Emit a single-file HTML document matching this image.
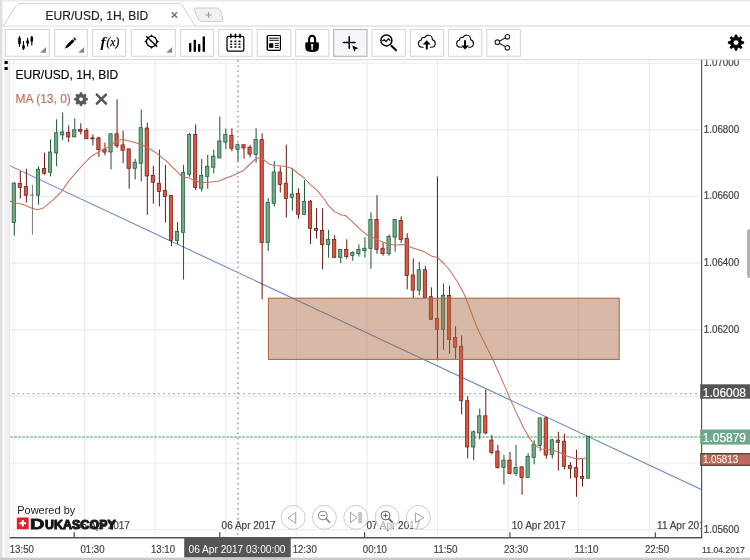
<!DOCTYPE html>
<html lang="en"><head><meta charset="utf-8"><title>EUR/USD, 1H, BID</title>
<style>
html,body{margin:0;padding:0;background:#fff;}
body{width:750px;height:560px;overflow:hidden;position:relative;font-family:"Liberation Sans",Arial,sans-serif;}
svg.chart{position:absolute;left:0;top:0;display:block}
</style></head><body>
<svg class="chart" width="750" height="560" viewBox="0 0 750 560" font-family="Liberation Sans, Arial, sans-serif">
<rect x="0" y="0" width="750" height="1.6" fill="#ebebeb"/>
<rect x="0" y="0" width="2.2" height="560" fill="#e0e0e0"/><rect x="2.2" y="0" width="1" height="560" fill="#f0f0f0"/>
<rect x="4.6" y="60" width="4.8" height="498" fill="#f1f1f1"/>
<rect x="9" y="60" width="1" height="478" fill="#e6e6e6"/>
<rect x="0" y="557.6" width="750" height="2.4" fill="#cacaca"/>
<line x1="3" x2="750" y1="26" y2="26" stroke="#e6e6e6" stroke-width="1.4"/>
<line x1="3" x2="750" y1="59.7" y2="59.7" stroke="#dedede" stroke-width="1.3"/>
<path d="M3 26.4 L16.2 5.6 Q17.6 3.6 20 3.6 H178.6 Q181 3.6 182.4 5.6 L195.4 26.4" fill="#fff" stroke="#cfcfcf" stroke-width="1"/>
<line x1="3" x2="750" y1="26.1" y2="26.1" stroke="#e6e6e6" stroke-width="1.3"/>
<path d="M195.6 8 H217 Q219.4 8 220.2 10 L223 19 Q223.6 21.4 221 21.4 H201.6 Q199.4 21.4 198.6 19.6 L194.4 10 Q193.6 8 195.6 8Z" fill="#f1f1f1" stroke="#cdcdcd" stroke-width="1"/>
<path d="M205.6 15 h6 M208.6 12 v6" stroke="#999" stroke-width="1" fill="none"/>
<text x="45.6" y="20" font-size="12" fill="#222" stroke="#222" stroke-width="0.15">EUR/USD, 1H, BID</text>
<path d="M171.7 12.2 L177.1 17.6 M177.1 12.2 L171.7 17.6" stroke="#777" stroke-width="1.5" fill="none"/>
<rect x="5.3" y="29.5" width="44" height="26.8" fill="#fff" stroke="#dadada" stroke-width="1.15"/>
<path d="M46 47 V52.8 H40Z" fill="#8a8a8a"/>
<rect x="54.6" y="29.5" width="32.8" height="26.8" fill="#fff" stroke="#dadada" stroke-width="1.15"/>
<path d="M84.1 47 V52.8 H78.1Z" fill="#8a8a8a"/>
<rect x="92.6" y="29.5" width="33.1" height="26.8" fill="#fff" stroke="#dadada" stroke-width="1.15"/>
<rect x="131.3" y="29.5" width="44.1" height="26.8" fill="#fff" stroke="#dadada" stroke-width="1.15"/>
<path d="M172.1 47 V52.8 H166.1Z" fill="#8a8a8a"/>
<rect x="180.6" y="29.5" width="33" height="26.8" fill="#fff" stroke="#dadada" stroke-width="1.15"/>
<rect x="218.6" y="29.5" width="33.5" height="26.8" fill="#fff" stroke="#dadada" stroke-width="1.15"/>
<rect x="257.3" y="29.5" width="33.4" height="26.8" fill="#fff" stroke="#dadada" stroke-width="1.15"/>
<rect x="295.6" y="29.5" width="33.2" height="26.8" fill="#fff" stroke="#dadada" stroke-width="1.15"/>
<rect x="333.7" y="29.5" width="33.3" height="26.8" fill="#f5f6f9" stroke="#b8b8b8" stroke-width="1.15"/>
<rect x="371.9" y="29.5" width="33.5" height="26.8" fill="#fff" stroke="#dadada" stroke-width="1.15"/>
<rect x="410.3" y="29.5" width="33.3" height="26.8" fill="#fff" stroke="#dadada" stroke-width="1.15"/>
<rect x="448.5" y="29.5" width="33.3" height="26.8" fill="#fff" stroke="#dadada" stroke-width="1.15"/>
<rect x="486.8" y="29.5" width="33.6" height="26.8" fill="#fff" stroke="#dadada" stroke-width="1.15"/>
<line x1="19.5" x2="19.5" y1="36" y2="46.8" stroke="#000" stroke-width="1.1"/>
<rect x="18.20" y="37.5" width="2.6" height="6.80" rx="1" fill="#000"/>
<line x1="23.5" x2="23.5" y1="41" y2="50" stroke="#000" stroke-width="1.1"/>
<rect x="22.20" y="45" width="2.6" height="4.00" rx="1" fill="#000"/>
<line x1="27.6" x2="27.6" y1="37.8" y2="46.6" stroke="#000" stroke-width="1.1"/>
<rect x="26.30" y="40.2" width="2.6" height="3.60" rx="1" fill="#000"/>
<line x1="31.8" x2="31.8" y1="35.8" y2="45.6" stroke="#000" stroke-width="1.1"/>
<rect x="30.50" y="36.8" width="2.6" height="5.00" rx="1" fill="#000"/>
<g transform="translate(70.4,43.3) rotate(-44.5)"><path d="M-7.9 0 L-3.8 -1.45 H4.4 V1.45 H-3.8Z" fill="#000"/><rect x="5.1" y="-1.45" width="2" height="2.9" rx="0.8" fill="#333"/></g>
<text x="100.6" y="46.6" font-family="Liberation Serif, serif" font-style="italic" font-weight="bold" font-size="15.5" fill="#000">f</text>
<text x="106.6" y="46.4" font-family="Liberation Serif, serif" font-style="italic" font-size="13" fill="#000" stroke="#000" stroke-width="0.25" textLength="12.6" lengthAdjust="spacingAndGlyphs">(x)</text>
<circle cx="151.6" cy="41.6" r="5.2" fill="none" stroke="#000" stroke-width="1.3"/>
<path d="M150.29999999999998 36.2 L151.6 34.2 L152.9 36.2Z M150.29999999999998 47.0 L151.6 49.0 L152.9 47.0Z M146.2 40.300000000000004 L144.2 41.6 L146.2 42.9Z M157.0 40.300000000000004 L159.0 41.6 L157.0 42.9Z" fill="#000"/>
<line x1="146.2" y1="36.2" x2="157.2" y2="46.8" stroke="#000" stroke-width="1.4"/>
<rect x="189.05" y="43" width="2.3" height="8.90" rx="0.8" fill="#000"/>
<rect x="193.65" y="39.8" width="2.3" height="12.10" rx="0.8" fill="#000"/>
<rect x="198.05" y="44" width="2.3" height="7.90" rx="0.8" fill="#000"/>
<rect x="202.65" y="36.2" width="2.3" height="15.70" rx="0.8" fill="#000"/>
<rect x="227" y="36.4" width="16.8" height="14.6" rx="1.6" fill="none" stroke="#000" stroke-width="1.25"/>
<line x1="230.8" x2="230.8" y1="34.2" y2="37.8" stroke="#000" stroke-width="1.5" stroke-linecap="round"/>
<line x1="235.4" x2="235.4" y1="34.2" y2="37.8" stroke="#000" stroke-width="1.5" stroke-linecap="round"/>
<line x1="240" x2="240" y1="34.2" y2="37.8" stroke="#000" stroke-width="1.5" stroke-linecap="round"/>
<rect x="230.15" y="40.60" width="2.1" height="1.6" rx="0.4" fill="#000"/>
<rect x="230.15" y="43.40" width="2.1" height="1.6" rx="0.4" fill="#000"/>
<rect x="230.15" y="46.20" width="2.1" height="1.6" rx="0.4" fill="#000"/>
<rect x="234.35" y="40.60" width="2.1" height="1.6" rx="0.4" fill="#000"/>
<rect x="234.35" y="43.40" width="2.1" height="1.6" rx="0.4" fill="#000"/>
<rect x="234.35" y="46.20" width="2.1" height="1.6" rx="0.4" fill="#000"/>
<rect x="238.45" y="40.60" width="2.1" height="1.6" rx="0.4" fill="#000"/>
<rect x="238.45" y="43.40" width="2.1" height="1.6" rx="0.4" fill="#000"/>
<rect x="238.45" y="46.20" width="2.1" height="1.6" rx="0.4" fill="#000"/>
<rect x="267.5" y="35.5" width="12.9" height="14.9" rx="0.8" fill="none" stroke="#000" stroke-width="1.15"/>
<line x1="267.2" x2="267.2" y1="36" y2="50" stroke="#000" stroke-width="1.2"/>
<path d="M269.2 38.2 H278.8 M269.2 40.3 H278.8 M274.8 43.6 H278.8 M274.8 45.6 H278.8 M274.8 47.6 H278.8" stroke="#000" stroke-width="0.95" fill="none"/>
<rect x="269.1" y="43.2" width="4.2" height="4.6" fill="#000"/>
<path d="M309.1 43 V39.2 A3 3.4 0 0 1 315.1 39.2 V43" fill="none" stroke="#000" stroke-width="2.1"/>
<path d="M305.3 43.6 Q305.3 42.2 306.8 42.2 H317.4 Q318.9 42.2 318.9 43.6 V47.4 Q318.9 51.9 312.1 51.9 Q305.3 51.9 305.3 47.4Z" fill="#000"/>
<circle cx="312.1" cy="45.1" r="1.2" fill="#fff"/><rect x="311.4" y="45.4" width="1.4" height="4.5" rx="0.5" fill="#fff"/>
<path d="M343.3 42.4 H355 M349.2 36.8 V48.2" stroke="#000" stroke-width="1.5" stroke-linecap="round" fill="none"/>
<circle cx="349.2" cy="42.4" r="0.45" fill="#ddd"/>
<path d="M352.2 45.5 L358.6 48.2 L355.7 49.1 L354.6 52 Z" fill="#000"/>
<circle cx="386.4" cy="40.4" r="5.5" fill="none" stroke="#000" stroke-width="1.5"/>
<line x1="391.4" y1="45.8" x2="396" y2="50.3" stroke="#000" stroke-width="1.9" stroke-linecap="round"/>
<path d="M382.8 40.6 L384.2 39.7 L386 41.6 L388.4 38.8 L390 40.4" stroke="#000" stroke-width="1.25" fill="none" stroke-linejoin="round" stroke-linecap="round"/>
<path d="M423.20 47.2 H422.20 C419.60 47.2 418.40 45.4 418.40 43.6 C418.40 41.6 419.80 40.2 421.40 40 C421.20 38 423.00 36.8 424.60 37.6 C425.60 35.8 427.20 35 428.80 35.2 C431.00 35.4 432.40 37.2 432.40 39.6 C434.40 40.2 435.20 41.8 435.20 43.4 C435.20 45.6 433.60 47.2 431.40 47.2 H430.40" fill="none" stroke="#111" stroke-width="1.15" stroke-linecap="round"/>
<path d="M426.8 49.4 V43" stroke="#000" stroke-width="2"/><path d="M422.8 44.6 L426.8 40.2 L430.8 44.6Z" fill="#000"/>
<path d="M461.40 47.2 H460.40 C457.80 47.2 456.60 45.4 456.60 43.6 C456.60 41.6 458.00 40.2 459.60 40 C459.40 38 461.20 36.8 462.80 37.6 C463.80 35.8 465.40 35 467.00 35.2 C469.20 35.4 470.60 37.2 470.60 39.6 C472.60 40.2 473.40 41.8 473.40 43.4 C473.40 45.6 471.80 47.2 469.60 47.2 H468.60" fill="none" stroke="#111" stroke-width="1.15" stroke-linecap="round"/>
<path d="M465 40.2 V46" stroke="#000" stroke-width="2"/><path d="M461 45.4 L465 49.6 L469 45.4Z" fill="#000"/>
<path d="M497.4 42.2 L507.4 36.8 M497.4 42.2 L507.4 47.8" stroke="#222" stroke-width="1.1" fill="none"/>
<circle cx="497.4" cy="42.2" r="2.3" fill="#fff" stroke="#222" stroke-width="1.1"/>
<circle cx="507.4" cy="36.8" r="2.3" fill="#fff" stroke="#222" stroke-width="1.1"/>
<circle cx="507.4" cy="47.8" r="2.3" fill="#fff" stroke="#222" stroke-width="1.1"/>
<path d="M735.09 34.95 L736.91 34.95 L737.25 37.2 L738.93 37.9 L740.77 36.55 L742.05 37.83 L740.7 39.67 L741.4 41.35 L743.65 41.69 L743.65 43.51 L741.4 43.85 L740.7 45.53 L742.05 47.37 L740.77 48.65 L738.93 47.3 L737.25 48 L736.91 50.25 L735.09 50.25 L734.75 48 L733.07 47.3 L731.23 48.65 L729.95 47.37 L731.3 45.53 L730.6 43.85 L728.35 43.51 L728.35 41.69 L730.6 41.35 L731.3 39.67 L729.95 37.83 L731.23 36.55 L733.07 37.9 L734.75 37.2Z M738.8 42.6 A2.8 2.8 0 1 0 733.2 42.6 A2.8 2.8 0 1 0 738.8 42.6Z" fill="#000" fill-rule="evenodd" stroke="#000" stroke-width="0.8" stroke-linejoin="round"/>
</svg>
<svg class="chart" width="750" height="560" viewBox="0 0 750 560" font-family="Liberation Sans, Arial, sans-serif">
<defs><clipPath id="plot"><rect x="10" y="60" width="690.8" height="477.5"/></clipPath><clipPath id="axis"><rect x="700" y="60.2" width="50" height="500"/></clipPath></defs>
<g clip-path="url(#plot)">
<line x1="10" x2="701" y1="63.2" y2="63.2" stroke="#ececec" stroke-width="1.1"/>
<line x1="10" x2="701" y1="129.83" y2="129.83" stroke="#ececec" stroke-width="1.1"/>
<line x1="10" x2="701" y1="196.46" y2="196.46" stroke="#ececec" stroke-width="1.1"/>
<line x1="10" x2="701" y1="263.09" y2="263.09" stroke="#ececec" stroke-width="1.1"/>
<line x1="10" x2="701" y1="329.72" y2="329.72" stroke="#ececec" stroke-width="1.1"/>
<line x1="10" x2="701" y1="396.35" y2="396.35" stroke="#ececec" stroke-width="1.1"/>
<line x1="10" x2="701" y1="462.98" y2="462.98" stroke="#ececec" stroke-width="1.1"/>
<line x1="10" x2="701" y1="529.61" y2="529.61" stroke="#ececec" stroke-width="1.1"/>
<line x1="14" x2="14" y1="60" y2="537" stroke="#ececec" stroke-width="1.1"/>
<line x1="84.58" x2="84.58" y1="60" y2="537" stroke="#ececec" stroke-width="1.1"/>
<line x1="155.16" x2="155.16" y1="60" y2="537" stroke="#ececec" stroke-width="1.1"/>
<line x1="225.74" x2="225.74" y1="60" y2="537" stroke="#ececec" stroke-width="1.1"/>
<line x1="296.32" x2="296.32" y1="60" y2="537" stroke="#ececec" stroke-width="1.1"/>
<line x1="366.9" x2="366.9" y1="60" y2="537" stroke="#ececec" stroke-width="1.1"/>
<line x1="437.48" x2="437.48" y1="60" y2="537" stroke="#ececec" stroke-width="1.1"/>
<line x1="508.06" x2="508.06" y1="60" y2="537" stroke="#ececec" stroke-width="1.1"/>
<line x1="578.64" x2="578.64" y1="60" y2="537" stroke="#ececec" stroke-width="1.1"/>
<line x1="649.22" x2="649.22" y1="60" y2="537" stroke="#ececec" stroke-width="1.1"/>
<line x1="74.2" x2="74.2" y1="532.3" y2="537.5" stroke="#444" stroke-width="1.2"/>
<text x="76" y="529.4" font-size="10" fill="#444" stroke="#444" stroke-width="0.2">05 Apr 2017</text>
<line x1="219.8" x2="219.8" y1="532.3" y2="537.5" stroke="#444" stroke-width="1.2"/>
<text x="221.6" y="529.4" font-size="10" fill="#444" stroke="#444" stroke-width="0.2">06 Apr 2017</text>
<line x1="364.6" x2="364.6" y1="532.3" y2="537.5" stroke="#444" stroke-width="1.2"/>
<text x="366.4" y="529.4" font-size="10" fill="#444" stroke="#444" stroke-width="0.2">07 Apr 2017</text>
<line x1="510" x2="510" y1="532.3" y2="537.5" stroke="#444" stroke-width="1.2"/>
<text x="511.8" y="529.4" font-size="10" fill="#444" stroke="#444" stroke-width="0.2">10 Apr 2017</text>
<line x1="655.3" x2="655.3" y1="532.3" y2="537.5" stroke="#444" stroke-width="1.2"/>
<text x="657.1" y="529.4" font-size="10" fill="#444" stroke="#444" stroke-width="0.2">11 Apr 2017</text>
<line x1="9.6" y1="165.6" x2="701.5" y2="489.6" stroke="#6485cb" stroke-width="1.05"/>
<line x1="237.95" x2="237.95" y1="60.35" y2="537" stroke="#9a9a9a" stroke-width="1.4" stroke-dasharray="1.7 3.33"/>
<line x1="10" x2="701" y1="393.7" y2="393.7" stroke="#999" stroke-width="1.1" stroke-dasharray="2 3.02" stroke-dashoffset="-2.3"/>
<line x1="10.16" x2="701" y1="437" y2="437" stroke="#80b897" stroke-width="1.4" stroke-dasharray="2.7 1.3"/>
<line x1="14.3" x2="14.3" y1="182.2" y2="235.5" stroke="#1b5535" stroke-width="1"/>
<rect x="12.15" y="183.1" width="3.3" height="39.4" fill="#6fa985" stroke="#1b5535" stroke-width="0.7"/>
<line x1="20.34" x2="20.34" y1="171" y2="198.5" stroke="#681712" stroke-width="1"/>
<rect x="18.2" y="183.4" width="3.3" height="4.1" fill="#dd5540" stroke="#681712" stroke-width="0.7"/>
<line x1="26.39" x2="26.39" y1="168.9" y2="202.6" stroke="#681712" stroke-width="1"/>
<rect x="24.24" y="186.3" width="3.3" height="8.9" fill="#dd5540" stroke="#681712" stroke-width="0.7"/>
<line x1="32.44" x2="32.44" y1="184.9" y2="234.7" stroke="#7a7a7a" stroke-width="1"/>
<line x1="29.94" x2="33.94" y1="195" y2="195" stroke="#7a7a7a" stroke-width="1"/>
<line x1="38.48" x2="38.48" y1="166.5" y2="204.7" stroke="#1b5535" stroke-width="1"/>
<rect x="36.33" y="169.2" width="3.3" height="26" fill="#6fa985" stroke="#1b5535" stroke-width="0.7"/>
<line x1="44.53" x2="44.53" y1="152.7" y2="174.7" stroke="#681712" stroke-width="1"/>
<rect x="42.38" y="168.4" width="3.3" height="4.9" fill="#dd5540" stroke="#681712" stroke-width="0.7"/>
<line x1="50.57" x2="50.57" y1="139.4" y2="176.3" stroke="#1b5535" stroke-width="1"/>
<rect x="48.42" y="152" width="3.3" height="20.2" fill="#6fa985" stroke="#1b5535" stroke-width="0.7"/>
<line x1="56.61" x2="56.61" y1="119.3" y2="166.3" stroke="#1b5535" stroke-width="1"/>
<rect x="54.46" y="132.7" width="3.3" height="20.2" fill="#6fa985" stroke="#1b5535" stroke-width="0.7"/>
<line x1="62.66" x2="62.66" y1="112.4" y2="140.2" stroke="#1b5535" stroke-width="1"/>
<rect x="60.51" y="131.9" width="3.3" height="3" fill="#6fa985" stroke="#1b5535" stroke-width="0.7"/>
<line x1="68.7" x2="68.7" y1="125.4" y2="142" stroke="#681712" stroke-width="1"/>
<rect x="66.55" y="132.2" width="3.3" height="4.7" fill="#dd5540" stroke="#681712" stroke-width="0.7"/>
<line x1="74.75" x2="74.75" y1="118.5" y2="137" stroke="#1b5535" stroke-width="1"/>
<rect x="72.6" y="129.8" width="3.3" height="7.1" fill="#6fa985" stroke="#1b5535" stroke-width="0.7"/>
<line x1="80.8" x2="80.8" y1="123.3" y2="134.5" stroke="#681712" stroke-width="1"/>
<rect x="78.64" y="129.5" width="3.3" height="1.7" fill="#dd5540" stroke="#681712" stroke-width="0.7"/>
<line x1="86.84" x2="86.84" y1="128.1" y2="138.9" stroke="#681712" stroke-width="1"/>
<rect x="84.69" y="130.3" width="3.3" height="8.5" fill="#dd5540" stroke="#681712" stroke-width="0.7"/>
<line x1="92.88" x2="92.88" y1="134.5" y2="145.3" stroke="#681712" stroke-width="1"/>
<rect x="90.73" y="137.9" width="3.3" height="1" fill="#dd5540" stroke="#681712" stroke-width="0.7"/>
<line x1="98.93" x2="98.93" y1="136.6" y2="157" stroke="#681712" stroke-width="1"/>
<rect x="96.78" y="137.9" width="3.3" height="11.8" fill="#dd5540" stroke="#681712" stroke-width="0.7"/>
<line x1="104.97" x2="104.97" y1="142.6" y2="155.4" stroke="#681712" stroke-width="1"/>
<rect x="102.82" y="149.1" width="3.3" height="3" fill="#dd5540" stroke="#681712" stroke-width="0.7"/>
<line x1="111.02" x2="111.02" y1="133.7" y2="169.3" stroke="#1b5535" stroke-width="1"/>
<rect x="108.87" y="133.8" width="3.3" height="18.2" fill="#6fa985" stroke="#1b5535" stroke-width="0.7"/>
<line x1="117.06" x2="117.06" y1="99.4" y2="148.1" stroke="#681712" stroke-width="1"/>
<rect x="114.91" y="133.8" width="3.3" height="12.1" fill="#dd5540" stroke="#681712" stroke-width="0.7"/>
<line x1="123.11" x2="123.11" y1="130.7" y2="163.3" stroke="#681712" stroke-width="1"/>
<rect x="120.96" y="144.9" width="3.3" height="5.4" fill="#dd5540" stroke="#681712" stroke-width="0.7"/>
<line x1="129.16" x2="129.16" y1="148.8" y2="188.8" stroke="#681712" stroke-width="1"/>
<rect x="127" y="148.9" width="3.3" height="19.4" fill="#dd5540" stroke="#681712" stroke-width="0.7"/>
<line x1="135.2" x2="135.2" y1="158.9" y2="179.4" stroke="#1b5535" stroke-width="1"/>
<rect x="133.05" y="162.2" width="3.3" height="6.1" fill="#6fa985" stroke="#1b5535" stroke-width="0.7"/>
<line x1="141.25" x2="141.25" y1="109.5" y2="181.4" stroke="#1b5535" stroke-width="1"/>
<rect x="139.09" y="127.7" width="3.3" height="35.5" fill="#6fa985" stroke="#1b5535" stroke-width="0.7"/>
<line x1="147.29" x2="147.29" y1="122.6" y2="214.8" stroke="#681712" stroke-width="1"/>
<rect x="145.14" y="128" width="3.3" height="48" fill="#dd5540" stroke="#681712" stroke-width="0.7"/>
<line x1="153.34" x2="153.34" y1="165.7" y2="203.6" stroke="#681712" stroke-width="1"/>
<rect x="151.19" y="175.3" width="3.3" height="7" fill="#dd5540" stroke="#681712" stroke-width="0.7"/>
<line x1="159.38" x2="159.38" y1="149.6" y2="206.4" stroke="#681712" stroke-width="1"/>
<rect x="157.23" y="183.2" width="3.3" height="8.2" fill="#dd5540" stroke="#681712" stroke-width="0.7"/>
<line x1="165.43" x2="165.43" y1="164.9" y2="222.5" stroke="#681712" stroke-width="1"/>
<rect x="163.28" y="190.3" width="3.3" height="6.2" fill="#dd5540" stroke="#681712" stroke-width="0.7"/>
<line x1="171.47" x2="171.47" y1="195.2" y2="246.1" stroke="#681712" stroke-width="1"/>
<rect x="169.32" y="195.3" width="3.3" height="45.3" fill="#dd5540" stroke="#681712" stroke-width="0.7"/>
<line x1="177.52" x2="177.52" y1="222" y2="243.9" stroke="#1b5535" stroke-width="1"/>
<rect x="175.37" y="231.5" width="3.3" height="8.9" fill="#6fa985" stroke="#1b5535" stroke-width="0.7"/>
<line x1="183.56" x2="183.56" y1="164.9" y2="279.5" stroke="#1b5535" stroke-width="1"/>
<rect x="181.41" y="172.3" width="3.3" height="60" fill="#6fa985" stroke="#1b5535" stroke-width="0.7"/>
<line x1="189.61" x2="189.61" y1="132.8" y2="176.8" stroke="#1b5535" stroke-width="1"/>
<rect x="187.46" y="134.5" width="3.3" height="39.8" fill="#6fa985" stroke="#1b5535" stroke-width="0.7"/>
<line x1="195.65" x2="195.65" y1="124.4" y2="189.9" stroke="#681712" stroke-width="1"/>
<rect x="193.5" y="134.5" width="3.3" height="52.9" fill="#dd5540" stroke="#681712" stroke-width="0.7"/>
<line x1="201.7" x2="201.7" y1="158.9" y2="191.5" stroke="#1b5535" stroke-width="1"/>
<rect x="199.55" y="175.5" width="3.3" height="12.7" fill="#6fa985" stroke="#1b5535" stroke-width="0.7"/>
<line x1="207.74" x2="207.74" y1="154.8" y2="188.8" stroke="#1b5535" stroke-width="1"/>
<rect x="205.59" y="166.2" width="3.3" height="10.3" fill="#6fa985" stroke="#1b5535" stroke-width="0.7"/>
<line x1="213.78" x2="213.78" y1="149.6" y2="173.4" stroke="#1b5535" stroke-width="1"/>
<rect x="211.63" y="156.1" width="3.3" height="11.1" fill="#6fa985" stroke="#1b5535" stroke-width="0.7"/>
<line x1="219.83" x2="219.83" y1="116.4" y2="158.1" stroke="#1b5535" stroke-width="1"/>
<rect x="217.68" y="140.9" width="3.3" height="17.1" fill="#6fa985" stroke="#1b5535" stroke-width="0.7"/>
<line x1="225.88" x2="225.88" y1="128.4" y2="149.2" stroke="#1b5535" stroke-width="1"/>
<rect x="223.72" y="134.5" width="3.3" height="7.6" fill="#6fa985" stroke="#1b5535" stroke-width="0.7"/>
<line x1="231.92" x2="231.92" y1="128.4" y2="151.3" stroke="#681712" stroke-width="1"/>
<rect x="229.77" y="135.3" width="3.3" height="13" fill="#dd5540" stroke="#681712" stroke-width="0.7"/>
<line x1="237.97" x2="237.97" y1="143.3" y2="161.4" stroke="#1b5535" stroke-width="1"/>
<rect x="235.81" y="144.7" width="3.3" height="4.6" fill="#6fa985" stroke="#1b5535" stroke-width="0.7"/>
<line x1="244.01" x2="244.01" y1="144.6" y2="158.6" stroke="#681712" stroke-width="1"/>
<rect x="241.86" y="144.7" width="3.3" height="3.3" fill="#dd5540" stroke="#681712" stroke-width="0.7"/>
<line x1="250.06" x2="250.06" y1="144.9" y2="157.3" stroke="#681712" stroke-width="1"/>
<rect x="247.91" y="147.1" width="3.3" height="7" fill="#dd5540" stroke="#681712" stroke-width="0.7"/>
<line x1="256.1" x2="256.1" y1="128.4" y2="162.6" stroke="#1b5535" stroke-width="1"/>
<rect x="253.95" y="139.4" width="3.3" height="15" fill="#6fa985" stroke="#1b5535" stroke-width="0.7"/>
<line x1="262.14" x2="262.14" y1="133.3" y2="299.4" stroke="#681712" stroke-width="1"/>
<rect x="260" y="139.7" width="3.3" height="102.9" fill="#dd5540" stroke="#681712" stroke-width="0.7"/>
<line x1="268.19" x2="268.19" y1="198" y2="250.9" stroke="#1b5535" stroke-width="1"/>
<rect x="266.04" y="202.3" width="3.3" height="40.3" fill="#6fa985" stroke="#1b5535" stroke-width="0.7"/>
<line x1="274.24" x2="274.24" y1="161" y2="206.7" stroke="#1b5535" stroke-width="1"/>
<rect x="272.09" y="172" width="3.3" height="31.3" fill="#6fa985" stroke="#1b5535" stroke-width="0.7"/>
<line x1="280.28" x2="280.28" y1="166.6" y2="192.6" stroke="#681712" stroke-width="1"/>
<rect x="278.13" y="172" width="3.3" height="12.6" fill="#dd5540" stroke="#681712" stroke-width="0.7"/>
<line x1="286.32" x2="286.32" y1="144.6" y2="217.5" stroke="#681712" stroke-width="1"/>
<rect x="284.18" y="183.2" width="3.3" height="15.2" fill="#dd5540" stroke="#681712" stroke-width="0.7"/>
<line x1="292.37" x2="292.37" y1="167.7" y2="210.7" stroke="#1b5535" stroke-width="1"/>
<rect x="290.22" y="194" width="3.3" height="3.5" fill="#6fa985" stroke="#1b5535" stroke-width="0.7"/>
<line x1="298.42" x2="298.42" y1="188.3" y2="218.8" stroke="#681712" stroke-width="1"/>
<rect x="296.27" y="193.5" width="3.3" height="20.7" fill="#dd5540" stroke="#681712" stroke-width="0.7"/>
<line x1="304.46" x2="304.46" y1="180.2" y2="214.6" stroke="#1b5535" stroke-width="1"/>
<rect x="302.31" y="201.3" width="3.3" height="13.2" fill="#6fa985" stroke="#1b5535" stroke-width="0.7"/>
<line x1="310.5" x2="310.5" y1="200" y2="244" stroke="#681712" stroke-width="1"/>
<rect x="308.36" y="201.2" width="3.3" height="27.1" fill="#dd5540" stroke="#681712" stroke-width="0.7"/>
<line x1="316.55" x2="316.55" y1="208.2" y2="238.7" stroke="#681712" stroke-width="1"/>
<rect x="314.4" y="228.5" width="3.3" height="2.1" fill="#dd5540" stroke="#681712" stroke-width="0.7"/>
<line x1="322.6" x2="322.6" y1="208.2" y2="269.2" stroke="#681712" stroke-width="1"/>
<rect x="320.45" y="230.4" width="3.3" height="14" fill="#dd5540" stroke="#681712" stroke-width="0.7"/>
<line x1="328.64" x2="328.64" y1="230" y2="257.7" stroke="#1b5535" stroke-width="1"/>
<rect x="326.49" y="239.6" width="3.3" height="4.8" fill="#6fa985" stroke="#1b5535" stroke-width="0.7"/>
<line x1="334.69" x2="334.69" y1="235.2" y2="257.5" stroke="#681712" stroke-width="1"/>
<rect x="332.54" y="239.6" width="3.3" height="17.8" fill="#dd5540" stroke="#681712" stroke-width="0.7"/>
<line x1="340.73" x2="340.73" y1="249.5" y2="263.1" stroke="#1b5535" stroke-width="1"/>
<rect x="338.58" y="249.6" width="3.3" height="7.9" fill="#6fa985" stroke="#1b5535" stroke-width="0.7"/>
<line x1="346.78" x2="346.78" y1="239.3" y2="258.9" stroke="#681712" stroke-width="1"/>
<rect x="344.63" y="249.4" width="3.3" height="7" fill="#dd5540" stroke="#681712" stroke-width="0.7"/>
<line x1="352.82" x2="352.82" y1="251.2" y2="260.8" stroke="#1b5535" stroke-width="1"/>
<rect x="350.67" y="252.6" width="3.3" height="3" fill="#6fa985" stroke="#1b5535" stroke-width="0.7"/>
<line x1="358.87" x2="358.87" y1="244.4" y2="256.5" stroke="#1b5535" stroke-width="1"/>
<rect x="356.72" y="249.4" width="3.3" height="4.3" fill="#6fa985" stroke="#1b5535" stroke-width="0.7"/>
<line x1="364.91" x2="364.91" y1="237.2" y2="257.6" stroke="#1b5535" stroke-width="1"/>
<rect x="362.76" y="248.2" width="3.3" height="2.6" fill="#6fa985" stroke="#1b5535" stroke-width="0.7"/>
<line x1="370.95" x2="370.95" y1="212.3" y2="268.9" stroke="#1b5535" stroke-width="1"/>
<rect x="368.81" y="219.3" width="3.3" height="29.1" fill="#6fa985" stroke="#1b5535" stroke-width="0.7"/>
<line x1="377" x2="377" y1="195.1" y2="253.8" stroke="#681712" stroke-width="1"/>
<rect x="374.85" y="219.3" width="3.3" height="30.2" fill="#dd5540" stroke="#681712" stroke-width="0.7"/>
<line x1="383.05" x2="383.05" y1="242.8" y2="255.7" stroke="#681712" stroke-width="1"/>
<rect x="380.9" y="248.2" width="3.3" height="5.5" fill="#dd5540" stroke="#681712" stroke-width="0.7"/>
<line x1="389.09" x2="389.09" y1="234.5" y2="255.7" stroke="#1b5535" stroke-width="1"/>
<rect x="386.94" y="236.5" width="3.3" height="17.2" fill="#6fa985" stroke="#1b5535" stroke-width="0.7"/>
<line x1="395.13" x2="395.13" y1="219.2" y2="251.7" stroke="#1b5535" stroke-width="1"/>
<rect x="392.99" y="219.3" width="3.3" height="17.8" fill="#6fa985" stroke="#1b5535" stroke-width="0.7"/>
<line x1="401.18" x2="401.18" y1="216.3" y2="242.8" stroke="#681712" stroke-width="1"/>
<rect x="399.03" y="220.4" width="3.3" height="19.1" fill="#dd5540" stroke="#681712" stroke-width="0.7"/>
<line x1="407.23" x2="407.23" y1="233.2" y2="289.4" stroke="#681712" stroke-width="1"/>
<rect x="405.08" y="238.6" width="3.3" height="37" fill="#dd5540" stroke="#681712" stroke-width="0.7"/>
<line x1="413.27" x2="413.27" y1="258.4" y2="297.9" stroke="#681712" stroke-width="1"/>
<rect x="411.12" y="275" width="3.3" height="15.1" fill="#dd5540" stroke="#681712" stroke-width="0.7"/>
<line x1="419.31" x2="419.31" y1="262" y2="295.5" stroke="#1b5535" stroke-width="1"/>
<rect x="417.17" y="269.7" width="3.3" height="20.4" fill="#6fa985" stroke="#1b5535" stroke-width="0.7"/>
<line x1="425.36" x2="425.36" y1="266.1" y2="297.7" stroke="#681712" stroke-width="1"/>
<rect x="423.21" y="269.7" width="3.3" height="27.9" fill="#dd5540" stroke="#681712" stroke-width="0.7"/>
<line x1="431.41" x2="431.41" y1="287.3" y2="319.4" stroke="#681712" stroke-width="1"/>
<rect x="429.26" y="296.7" width="3.3" height="22.6" fill="#dd5540" stroke="#681712" stroke-width="0.7"/>
<line x1="437.45" x2="437.45" y1="176.6" y2="360.5" stroke="#681712" stroke-width="1"/>
<rect x="435.3" y="318.4" width="3.3" height="11" fill="#dd5540" stroke="#681712" stroke-width="0.7"/>
<line x1="443.5" x2="443.5" y1="283.4" y2="349.7" stroke="#1b5535" stroke-width="1"/>
<rect x="441.35" y="295.1" width="3.3" height="34.2" fill="#6fa985" stroke="#1b5535" stroke-width="0.7"/>
<line x1="449.54" x2="449.54" y1="285.7" y2="353.7" stroke="#681712" stroke-width="1"/>
<rect x="447.39" y="295.4" width="3.3" height="43.9" fill="#dd5540" stroke="#681712" stroke-width="0.7"/>
<line x1="455.58" x2="455.58" y1="326.1" y2="358.9" stroke="#681712" stroke-width="1"/>
<rect x="453.44" y="337.5" width="3.3" height="9.7" fill="#dd5540" stroke="#681712" stroke-width="0.7"/>
<line x1="461.63" x2="461.63" y1="335.3" y2="414.2" stroke="#681712" stroke-width="1"/>
<rect x="459.48" y="346.3" width="3.3" height="54.1" fill="#dd5540" stroke="#681712" stroke-width="0.7"/>
<line x1="467.68" x2="467.68" y1="396.2" y2="458.4" stroke="#681712" stroke-width="1"/>
<rect x="465.53" y="400.8" width="3.3" height="46.2" fill="#dd5540" stroke="#681712" stroke-width="0.7"/>
<line x1="473.72" x2="473.72" y1="430.6" y2="460.3" stroke="#1b5535" stroke-width="1"/>
<rect x="471.57" y="431.8" width="3.3" height="15.2" fill="#6fa985" stroke="#1b5535" stroke-width="0.7"/>
<line x1="479.76" x2="479.76" y1="408.6" y2="439.4" stroke="#1b5535" stroke-width="1"/>
<rect x="477.62" y="415.8" width="3.3" height="17.1" fill="#6fa985" stroke="#1b5535" stroke-width="0.7"/>
<line x1="485.81" x2="485.81" y1="389.4" y2="434.3" stroke="#681712" stroke-width="1"/>
<rect x="483.66" y="415.8" width="3.3" height="17.1" fill="#dd5540" stroke="#681712" stroke-width="0.7"/>
<line x1="491.86" x2="491.86" y1="434.9" y2="454.4" stroke="#681712" stroke-width="1"/>
<rect x="489.71" y="440" width="3.3" height="12.5" fill="#dd5540" stroke="#681712" stroke-width="0.7"/>
<line x1="497.9" x2="497.9" y1="444.9" y2="468.6" stroke="#681712" stroke-width="1"/>
<rect x="495.75" y="451.1" width="3.3" height="16.5" fill="#dd5540" stroke="#681712" stroke-width="0.7"/>
<line x1="503.94" x2="503.94" y1="454.9" y2="484.6" stroke="#1b5535" stroke-width="1"/>
<rect x="501.8" y="460.1" width="3.3" height="7.5" fill="#6fa985" stroke="#1b5535" stroke-width="0.7"/>
<line x1="509.99" x2="509.99" y1="452" y2="474.2" stroke="#681712" stroke-width="1"/>
<rect x="507.84" y="460.1" width="3.3" height="13.5" fill="#dd5540" stroke="#681712" stroke-width="0.7"/>
<line x1="516.03" x2="516.03" y1="444.9" y2="475.8" stroke="#1b5535" stroke-width="1"/>
<rect x="513.88" y="467.5" width="3.3" height="6.1" fill="#6fa985" stroke="#1b5535" stroke-width="0.7"/>
<line x1="522.08" x2="522.08" y1="466.1" y2="494.7" stroke="#681712" stroke-width="1"/>
<rect x="519.93" y="466.9" width="3.3" height="10.7" fill="#dd5540" stroke="#681712" stroke-width="0.7"/>
<line x1="528.12" x2="528.12" y1="453" y2="477.7" stroke="#1b5535" stroke-width="1"/>
<rect x="525.98" y="456.3" width="3.3" height="21.3" fill="#6fa985" stroke="#1b5535" stroke-width="0.7"/>
<line x1="534.17" x2="534.17" y1="440.1" y2="464.4" stroke="#1b5535" stroke-width="1"/>
<rect x="532.02" y="444.3" width="3.3" height="13.2" fill="#6fa985" stroke="#1b5535" stroke-width="0.7"/>
<line x1="540.21" x2="540.21" y1="417.8" y2="451.2" stroke="#1b5535" stroke-width="1"/>
<rect x="538.06" y="417.9" width="3.3" height="27.5" fill="#6fa985" stroke="#1b5535" stroke-width="0.7"/>
<line x1="546.26" x2="546.26" y1="416.6" y2="458.5" stroke="#681712" stroke-width="1"/>
<rect x="544.11" y="417.9" width="3.3" height="37.2" fill="#dd5540" stroke="#681712" stroke-width="0.7"/>
<line x1="552.3" x2="552.3" y1="438.8" y2="458.5" stroke="#1b5535" stroke-width="1"/>
<rect x="550.15" y="439.8" width="3.3" height="14.6" fill="#6fa985" stroke="#1b5535" stroke-width="0.7"/>
<line x1="558.35" x2="558.35" y1="431.6" y2="470.6" stroke="#681712" stroke-width="1"/>
<rect x="556.2" y="440.1" width="3.3" height="2.2" fill="#dd5540" stroke="#681712" stroke-width="0.7"/>
<line x1="564.39" x2="564.39" y1="433.6" y2="469.4" stroke="#681712" stroke-width="1"/>
<rect x="562.25" y="441.1" width="3.3" height="25.3" fill="#dd5540" stroke="#681712" stroke-width="0.7"/>
<line x1="570.44" x2="570.44" y1="462.1" y2="478.6" stroke="#681712" stroke-width="1"/>
<rect x="568.29" y="465.4" width="3.3" height="3" fill="#dd5540" stroke="#681712" stroke-width="0.7"/>
<line x1="576.48" x2="576.48" y1="449.7" y2="496.8" stroke="#681712" stroke-width="1"/>
<rect x="574.33" y="467.5" width="3.3" height="9.7" fill="#dd5540" stroke="#681712" stroke-width="0.7"/>
<line x1="582.53" x2="582.53" y1="458.2" y2="486.7" stroke="#681712" stroke-width="1"/>
<rect x="580.38" y="476.3" width="3.3" height="2.2" fill="#dd5540" stroke="#681712" stroke-width="0.7"/>
<line x1="588.57" x2="588.57" y1="436.1" y2="478.3" stroke="#1b5535" stroke-width="1"/>
<rect x="586.42" y="436.2" width="3.3" height="42" fill="#6fa985" stroke="#1b5535" stroke-width="0.7"/>
<polyline points="9.6,201 16,203 24,204.7 32,208.2 37.7,209.8 43.4,207.9 53,200.2 61,192.1 69,180.9 77,171.3 87.5,160 91.6,156.2 99.6,151.4 109.2,146.6 116.4,140.8 122.9,139.5 130.9,141.6 140.5,144 148.6,148 158.2,154.4 166.2,160.9 174.3,168.9 182.3,176.9 188.7,177.7 195.1,180.9 201.6,182.5 208,182.5 219.2,181 225,178.6 233,175.4 242.7,171.1 249.1,165 255.5,159 259.5,157.8 263.6,159.4 268.4,163.7 274,165.5 279.6,165.8 286,166.6 292.5,168.7 297.3,173 303.7,177.5 310.1,184.3 316.6,189.9 324.6,199.5 327.8,204.6 334.2,211.4 341.4,215 345.4,215.5 351.1,220.3 359.1,228.4 367.1,235.1 373.6,237.7 380,240.9 388,244.1 395.2,245.2 400.9,244.4 405.7,244.8 412.1,247.7 418.5,249.7 425,252.1 431.4,256 437.4,257.4 444.3,264 450.7,271.5 457.1,281.3 463.5,292.6 468.4,304.6 473.2,317.5 478.4,330.5 485.1,344.1 493.2,360.2 499.6,374.6 506,389.1 511,400.9 517.5,415.3 523.9,428.2 530.3,439.4 535.1,445.5 541.2,448.9 546.4,449.6 552.8,450.2 559.2,452.3 566.9,456.1 575,458.6 583,458.6 587.8,457.8" fill="none" stroke="#c4705f" stroke-width="1.05" stroke-linejoin="round"/>
<rect x="268.4" y="298.2" width="350.8" height="61.2" fill="#ad6b45" fill-opacity="0.47" stroke="#b06a45" stroke-width="1.1"/>
</g>
<line x1="701.6" x2="701.6" y1="60" y2="538" stroke="#555" stroke-width="1.2"/>
<line x1="9.6" x2="702.2" y1="537.7" y2="537.7" stroke="#555" stroke-width="1.4"/>
<text clip-path="url(#axis)" x="703.8" y="66.2" font-size="10.6" fill="#444" stroke="#444" stroke-width="0.2" textLength="35.4" lengthAdjust="spacingAndGlyphs">1.07000</text>
<text clip-path="url(#axis)" x="703.8" y="132.83" font-size="10.6" fill="#444" stroke="#444" stroke-width="0.2" textLength="35.4" lengthAdjust="spacingAndGlyphs">1.06800</text>
<text clip-path="url(#axis)" x="703.8" y="199.46" font-size="10.6" fill="#444" stroke="#444" stroke-width="0.2" textLength="35.4" lengthAdjust="spacingAndGlyphs">1.06600</text>
<text clip-path="url(#axis)" x="703.8" y="266.09" font-size="10.6" fill="#444" stroke="#444" stroke-width="0.2" textLength="35.4" lengthAdjust="spacingAndGlyphs">1.06400</text>
<text clip-path="url(#axis)" x="703.8" y="332.72" font-size="10.6" fill="#444" stroke="#444" stroke-width="0.2" textLength="35.4" lengthAdjust="spacingAndGlyphs">1.06200</text>
<text clip-path="url(#axis)" x="703.8" y="532.61" font-size="10.6" fill="#444" stroke="#444" stroke-width="0.2" textLength="35.4" lengthAdjust="spacingAndGlyphs">1.05600</text>
<text x="9.75" y="552.9" font-size="11.3" fill="#444" stroke="#444" stroke-width="0.2" textLength="24.1" lengthAdjust="spacingAndGlyphs">13:50</text>
<text x="80.45" y="552.9" font-size="11.3" fill="#444" stroke="#444" stroke-width="0.2" textLength="24.1" lengthAdjust="spacingAndGlyphs">01:30</text>
<text x="150.95" y="552.9" font-size="11.3" fill="#444" stroke="#444" stroke-width="0.2" textLength="24.1" lengthAdjust="spacingAndGlyphs">13:10</text>
<text x="292.65" y="552.9" font-size="11.3" fill="#444" stroke="#444" stroke-width="0.2" textLength="24.1" lengthAdjust="spacingAndGlyphs">12:30</text>
<text x="362.85" y="552.9" font-size="11.3" fill="#444" stroke="#444" stroke-width="0.2" textLength="24.1" lengthAdjust="spacingAndGlyphs">00:10</text>
<text x="433.45" y="552.9" font-size="11.3" fill="#444" stroke="#444" stroke-width="0.2" textLength="24.1" lengthAdjust="spacingAndGlyphs">11:50</text>
<text x="503.95" y="552.9" font-size="11.3" fill="#444" stroke="#444" stroke-width="0.2" textLength="24.1" lengthAdjust="spacingAndGlyphs">23:30</text>
<text x="574.45" y="552.9" font-size="11.3" fill="#444" stroke="#444" stroke-width="0.2" textLength="24.1" lengthAdjust="spacingAndGlyphs">11:10</text>
<text x="644.95" y="552.9" font-size="11.3" fill="#444" stroke="#444" stroke-width="0.2" textLength="24.1" lengthAdjust="spacingAndGlyphs">22:50</text>
<text x="702" y="553.2" font-size="8.7" fill="#444" stroke="#444" stroke-width="0.2">11.04.2017</text>
<rect x="184.2" y="537.6" width="106.5" height="19.7" fill="#555"/>
<text x="188.6" y="552.9" font-size="11" fill="#fff" textLength="96.9" lengthAdjust="spacingAndGlyphs">06 Apr 2017 03:00:00</text>
<rect x="700.2" y="384.3" width="50" height="14.4" fill="#555"/>
<text x="702.8" y="396.6" font-size="13" fill="#fff" stroke="#fff" stroke-width="0.2" textLength="43.2" lengthAdjust="spacingAndGlyphs">1.06008</text>
<rect x="700.2" y="429.5" width="50" height="15.1" fill="#6ca989"/>
<text x="702.8" y="442.3" font-size="13" fill="#fff" stroke="#fff" stroke-width="0.2" textLength="43.2" lengthAdjust="spacingAndGlyphs">1.05879</text>
<rect x="700.8" y="453.7" width="50" height="11.6" fill="#bf6a59" stroke="#2a2a2a" stroke-width="1"/>
<text x="702.9" y="463.2" font-size="10.4" fill="#fff" textLength="35.2" lengthAdjust="spacingAndGlyphs">1.05813</text>
<rect x="747" y="229" width="8" height="49" rx="3" fill="#b2b2b2"/>
<text x="15.5" y="79.2" font-size="12" fill="#000" stroke="#000" stroke-width="0.15">EUR/USD, 1H, BID</text>
<text x="15.5" y="103" font-size="12" fill="#c26f5f" stroke="#c26f5f" stroke-width="0.15">MA (13, 0)</text>
<path d="M80.22 92.65 L81.78 92.65 L82.13 94.31 L83.65 94.94 L85.09 94.02 L86.18 95.11 L85.26 96.55 L85.89 98.07 L87.55 98.42 L87.55 99.98 L85.89 100.33 L85.26 101.85 L86.18 103.29 L85.09 104.38 L83.65 103.46 L82.13 104.09 L81.78 105.75 L80.22 105.75 L79.87 104.09 L78.35 103.46 L76.91 104.38 L75.82 103.29 L76.74 101.85 L76.11 100.33 L74.45 99.98 L74.45 98.42 L76.11 98.07 L76.74 96.55 L75.82 95.11 L76.91 94.02 L78.35 94.94 L79.87 94.31Z M83.3 99.2 A2.3 2.3 0 1 0 78.7 99.2 A2.3 2.3 0 1 0 83.3 99.2Z" fill="#555" fill-rule="evenodd" stroke="#555" stroke-width="0.8" stroke-linejoin="round"/>
<path d="M96.8 94.6 L106 103.7 M106 94.6 L96.8 103.7" stroke="#555" stroke-width="2.5" stroke-linecap="round" fill="none"/>
<rect x="4.5" y="61" width="3.2" height="3" fill="#000"/><rect x="4.5" y="67" width="3.2" height="3" fill="#000"/>
<text x="17.2" y="514" font-size="11" fill="#222">Powered by</text>
<rect x="16.8" y="517.5" width="11.9" height="11.7" fill="#d9232e"/>
<path d="M22.8 520 v6.6 M19.5 523.3 h6.6" stroke="#fff" stroke-width="2"/>
<text transform="translate(30.1,528.7) scale(1.3,1)" font-size="15.4" font-weight="bold" fill="#151515" stroke="#151515" stroke-width="0.8" stroke-linejoin="round">D</text><text transform="translate(44.9,528.7) scale(1.0,1)" font-size="12.4" font-weight="bold" fill="#151515" stroke="#151515" stroke-width="1.05" stroke-linejoin="round" letter-spacing="0.1">UKASCOPY</text>
<circle cx="293.2" cy="517.4" r="12" fill="#fff" fill-opacity="0.6" stroke="#ccc" stroke-width="1"/>
<path d="M295.7 512.5 L287.9 518 L295.7 523.5Z" fill="none" stroke="#a0a0a0" stroke-width="1"/>
<circle cx="324.4" cy="517.4" r="12" fill="#fff" fill-opacity="0.6" stroke="#ccc" stroke-width="1"/>
<circle cx="322.8" cy="515.5" r="4.3" fill="none" stroke="#8a8a8a" stroke-width="1.1"/><line x1="326" y1="518.7" x2="330" y2="522.6" stroke="#8a8a8a" stroke-width="1.7"/><line x1="320.5" y1="515.5" x2="325.1" y2="515.5" stroke="#8a8a8a" stroke-width="1"/>
<circle cx="355.8" cy="517.4" r="12" fill="#fff" fill-opacity="0.6" stroke="#ccc" stroke-width="1"/>
<path d="M350.4 512.4 L357.1 517.6 L350.4 522.8Z" fill="none" stroke="#a0a0a0" stroke-width="1"/><rect x="358.6" y="512.3" width="3.2" height="10.6" rx="0.6" fill="#c9c9c9" stroke="#b5b5b5" stroke-width="0.6"/>
<circle cx="387.1" cy="517.4" r="12" fill="#fff" fill-opacity="0.6" stroke="#ccc" stroke-width="1"/>
<circle cx="385.5" cy="515.5" r="4.3" fill="none" stroke="#666" stroke-width="1.1"/><line x1="388.7" y1="518.7" x2="392.7" y2="522.6" stroke="#666" stroke-width="1.7"/><line x1="383.2" y1="515.5" x2="387.8" y2="515.5" stroke="#666" stroke-width="1"/><line x1="385.5" y1="513.2" x2="385.5" y2="517.8" stroke="#666" stroke-width="1"/>
<circle cx="418.3" cy="517.4" r="12" fill="#fff" fill-opacity="0.6" stroke="#ccc" stroke-width="1"/>
<path d="M415.4 512.8 L423.7 517.7 L415.4 522.6Z" fill="none" stroke="#a0a0a0" stroke-width="1"/>
</svg>
</body></html>
